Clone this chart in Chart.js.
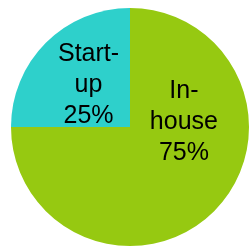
<!DOCTYPE html>
<html>
<head>
<meta charset="utf-8">
<script src="https://cdn.jsdelivr.net/npm/chart.js@4/dist/chart.umd.min.js"></script>
<style>
html,body{margin:0;padding:0;background:#fff;}
#wrap{width:250px;height:247px;}
</style>
</head>
<body>
<div id="wrap"><canvas id="c" width="250" height="247"></canvas></div>
<script>
const categories = ["In-house", "Start-up"];
const labelLines = [["In-", "house"], ["Start-", "up"]];
const values = [75, 25];
const colors = ["#96C911", "#2ED0CB"];

const labelPlugin = {
  id: 'sliceLabels',
  afterDatasetsDraw(chart, args, opts) {
    const ctx = chart.ctx;
    const meta = chart.getDatasetMeta(0);
    const total = values.reduce((a, b) => a + b, 0);
    meta.data.forEach((arc, i) => {
      const p = arc.getProps(['x', 'y', 'startAngle', 'endAngle', 'outerRadius'], true);
      const anchor = opts.anchors[i];
      const ang = anchor.angle !== null ? anchor.angle * Math.PI / 180 : (p.startAngle + p.endAngle) / 2;
      const r = p.outerRadius * anchor.frac;
      const cx = p.x + Math.cos(ang) * r;
      const cy = p.y + Math.sin(ang) * r;
      const lines = labelLines[i].concat([Math.round(values[i] / total * 100) + "%"]);
      ctx.save();
      ctx.font = '25px "Liberation Sans", Arial, sans-serif';
      ctx.fillStyle = '#000';
      ctx.textAlign = 'center';
      ctx.textBaseline = 'middle';
      const lh = 31;
      lines.forEach((t, k) => {
        ctx.fillText(t, cx, cy + (k - (lines.length - 1) / 2) * lh);
      });
      ctx.restore();
    });
  }
};

new Chart(document.getElementById('c'), {
  type: 'pie',
  data: {
    labels: categories,
    datasets: [{
      data: values,
      backgroundColor: colors,
      borderWidth: 0
    }]
  },
  options: {
    responsive: false,
    animation: false,
    layout: { padding: { left: 11, right: 1, top: 8, bottom: 1 } },
    plugins: {
      legend: { display: false },
      tooltip: { enabled: false },
      sliceLabels: { anchors: [ { angle: -5.3, frac: 0.455 }, { angle: null, frac: 0.493 } ] }
    }
  },
  plugins: [labelPlugin]
});
</script>
</body>
</html>
